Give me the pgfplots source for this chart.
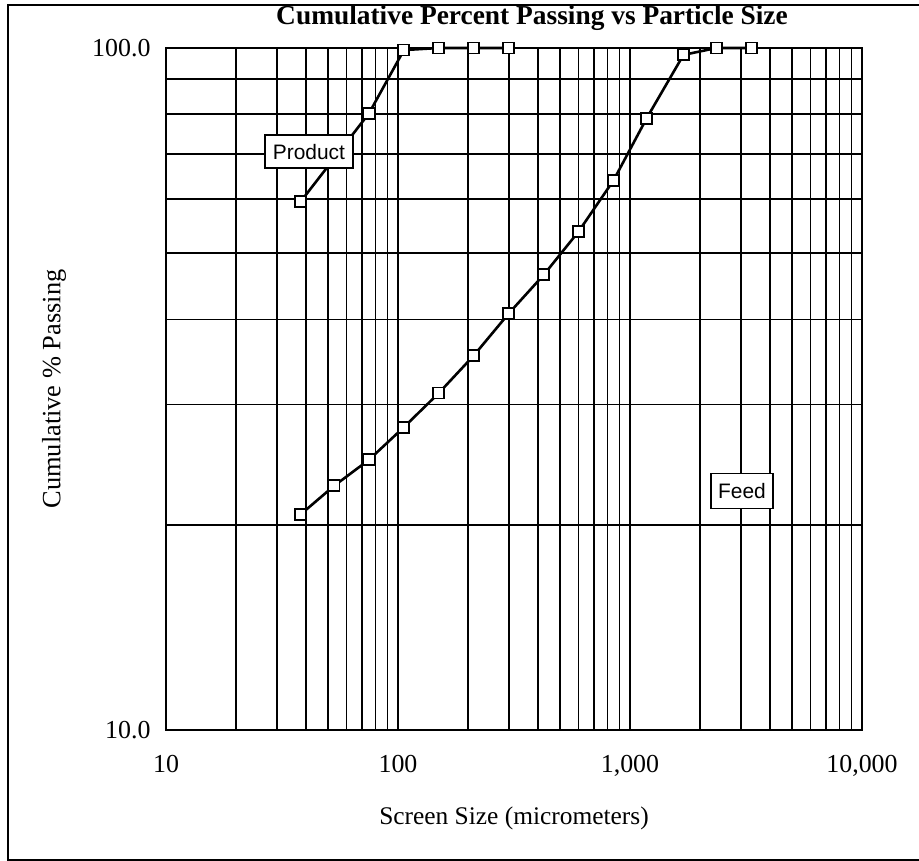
\documentclass[border=0pt]{standalone}
\usepackage{fontspec}
\setmainfont{Liberation Serif}
\newfontfamily\arialfont{Liberation Sans}
\usepackage{pgfplots}
\pgfplotsset{compat=1.18}
\newcommand\tl[1]{\fontsize{26}{30}\selectfont #1}
\begin{document}
\begin{tikzpicture}
\useasboundingbox (-166bp,-131bp) rectangle (753bp,730bp);
\draw[line width=1.5bp] (760bp,725bp) -- (-158bp,725bp) -- (-158bp,-130bp) -- (760bp,-130bp);
\begin{axis}[
  at={(0bp,0bp)}, anchor=south west, scale only axis,
  width=696bp, height=682bp,
  xmode=log, ymode=log,
  xmin=10, xmax=10000, ymin=10, ymax=100,
  xtick={10,100,1000,10000}, xticklabels={{\tl{10}},{\tl{100}},{\tl{1,000}},{\tl{10,000}}},
  ytick={10,100}, yticklabels={{\tl{10.0}},{\tl{100.0}}},
  minor xtick={20,30,40,50,60,70,80,90,200,300,400,500,600,700,800,900,2000,3000,4000,5000,6000,7000,8000,9000},
  minor ytick={20,30,40,50,60,70,80,90},
  grid=both,
  major grid style={black, line width=1.7bp},
  minor grid style={black, line width=1.7bp},
  major tick length=0pt, minor tick length=0pt,
  axis line style={line width=2bp},
  tick label style={font=\fontsize{26}{30}\selectfont},
  xticklabel style={yshift=-22bp},
  yticklabel style={xshift=-12bp},
  xlabel={Screen Size (micrometers)},
  ylabel={Cumulative \% Passing},
  xlabel style={font=\fontsize{25.5}{30}\selectfont, at={(axis description cs:0.5,-0.129)}, anchor=center},
  ylabel style={font=\fontsize{26.5}{30}\selectfont, at={(axis description cs:-0.161,0.5)}, anchor=center},
  title={\textbf{Cumulative Percent Passing vs Particle Size}},
  title style={font=\fontsize{27.5}{30}\selectfont, at={(axis description cs:0.5259,1.0352)}, anchor=center},
  clip=false,
]
\addplot[black, line width=2.6bp, mark=square*, mark size=5.5bp,
  mark options={fill=white, line width=1.8bp}] coordinates {
  (38,59.5) (75,80.2) (106,99.3) (150,100) (212,100) (300,100)
};
\addplot[black, line width=2.6bp, mark=square*, mark size=5.5bp,
  mark options={fill=white, line width=1.8bp}] coordinates {
  (38,20.7) (53,22.8) (75,24.9) (106,27.8) (150,31.2) (212,35.4) (300,40.8)
  (425,46.5) (600,53.8) (850,64.0) (1180,78.9) (1700,97.7) (2360,100) (3350,100)
};
\node[draw, fill=white, line width=1.5bp, minimum width=88bp, minimum height=33bp, inner sep=0pt,
  font=\arialfont\fontsize{21}{24}\selectfont] at (axis cs:41.3,70.5) {Product};
\node[draw, fill=white, line width=1.5bp, minimum width=62bp, minimum height=35bp, inner sep=0pt,
  font=\arialfont\fontsize{21}{24}\selectfont] at (axis cs:3040,22.4) {Feed};
\end{axis}
\end{tikzpicture}
\end{document}
